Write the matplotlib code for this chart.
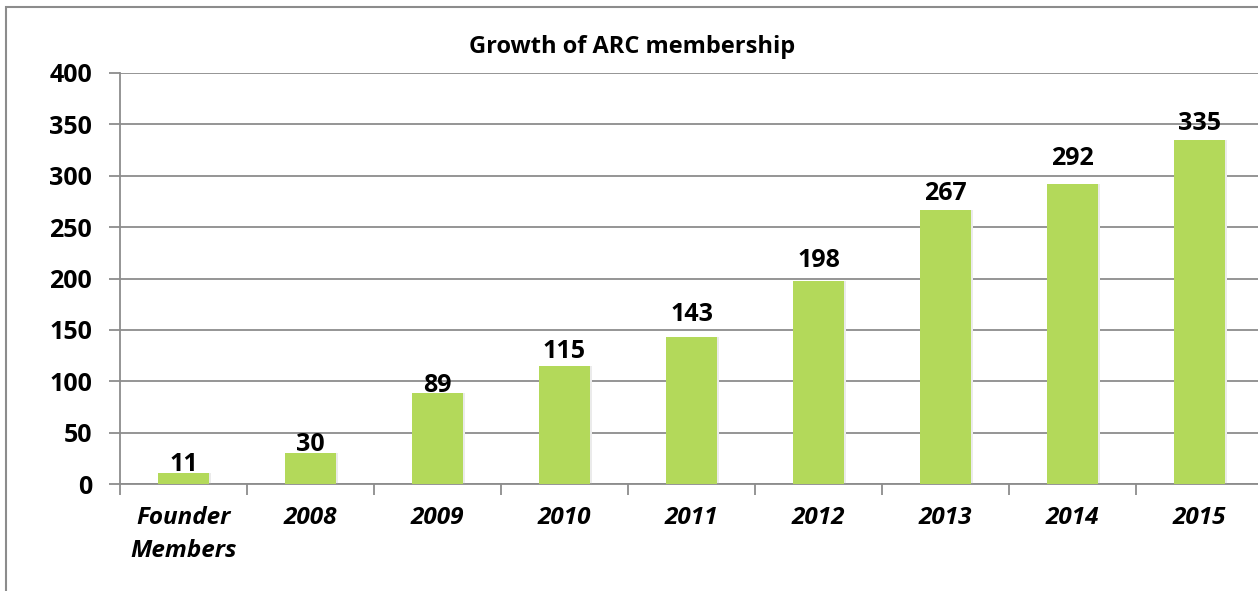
import matplotlib.pyplot as plt
from matplotlib.patches import Rectangle

categories = ['Founder\nMembers', '2008', '2009', '2010', '2011', '2012', '2013', '2014', '2015']
members = [11, 30, 89, 115, 143, 198, 267, 292, 335]
y_ticks = [0, 50, 100, 150, 200, 250, 300, 350, 400]
# labels in the original were nudged by hand, gap above bar in points
label_gaps = [1, 1, 0, 5.5, 11.5, 9.5, 6.5, 13, 7]

W, H = 1258, 591
plt.rcParams['font.family'] = ['Open Sans', 'DejaVu Sans']

fig = plt.figure(figsize=(W / 100, H / 100), dpi=100)
# plot area runs past the right edge, as in the cropped reference
ax = fig.add_axes([120 / W, 1 - 484 / H, 1143 / W, 411 / H])

x = range(len(categories))
bar_color = '#b3d95a'
# soft shadow behind each bar
ax.bar([i + 0.015 for i in x], members, width=0.41, color='#ebebeb', zorder=2)
ax.bar(x, members, width=0.4, color=bar_color, zorder=3)

for i, v, g in zip(x, members, label_gaps):
    ax.annotate(str(v), (i, v), xytext=(0, g - 4), textcoords='offset points',
                ha='center', va='bottom', fontsize=18, fontweight='bold', zorder=4)

ax.set_xlim(-0.5, len(categories) - 0.5)
ax.set_ylim(0, 400)
ax.set_yticks(y_ticks)
ax.set_yticklabels([str(t) for t in y_ticks], fontsize=18, fontweight='bold')
ax.yaxis.grid(True, color='#8c8c8c', linewidth=1.3, zorder=0)
ax.set_axisbelow(True)

ax.set_xticks([i + 0.5 for i in range(-1, len(categories))])
ax.set_xticklabels([])
ax.tick_params(axis='x', length=8, color='#8c8c8c', width=1.3)
ax.tick_params(axis='y', length=8, color='#8c8c8c', width=1.3, pad=12)
for i, lab in enumerate(categories):
    ax.text(i, -21, lab, ha='center', va='top', fontsize=17.5, fontweight='bold',
            style='italic', linespacing=1.5)

for side in ['top', 'right']:
    ax.spines[side].set_visible(False)
for side in ['left', 'bottom']:
    ax.spines[side].set_color('#8c8c8c')
    ax.spines[side].set_linewidth(1.3)

fig.text(632 / W, 1 - 47 / H, 'Growth of ARC membership', ha='center', va='center',
         fontsize=17, fontweight='bold')

fig.patches.append(Rectangle((6 / W, -0.1), 1.2, 1 - 7 / H + 0.1, transform=fig.transFigure,
                             fill=False, edgecolor='#8c8c8c', linewidth=1.5))

fig.savefig('out.png', dpi=100)
